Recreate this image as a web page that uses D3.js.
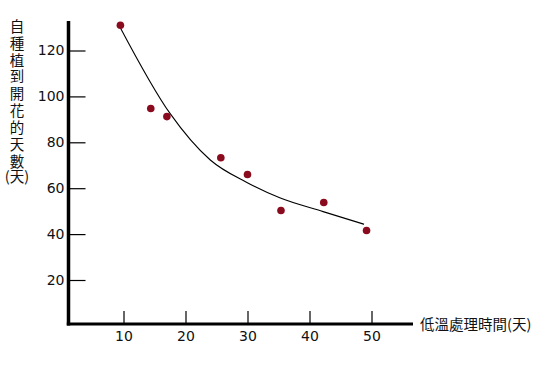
<!DOCTYPE html>
<html>
<head>
<meta charset="utf-8">
<script src="https://d3js.org/d3.v7.min.js"></script>
<style>
body{margin:0;background:#fff;}
svg{display:block;}
</style>
</head>
<body>
<div id="chart"></div>
<script>
// 低溫處理時間 vs 自種植到開花的天數
var xTicks = [10, 20, 30, 40, 50];
var yTicks = [20, 40, 60, 80, 100, 120];

// 觀測點
var coldDays   = [9.5, 14.4, 17.0, 25.7, 30.0, 35.4, 42.3, 49.2];
var flowerDays = [131, 94.7, 91.2, 73.3, 66.0, 50.3, 53.8, 41.6];

// 趨勢曲線
var curveX = [9.4, 17.5, 24.0, 29.9, 35.2, 42.2, 48.8];
var curveY = [130.4, 92.6, 72.3, 62.5, 55.8, 49.8, 44.3];

var yTitle = "自種植到開花的天數";
var yTitleUnit = "(天)";
var xTitle = "低溫處理時間(天)";

var W = 553, H = 372;
var axisX = 68.5, axisY = 324;

var x = d3.scaleLinear().domain([10, 50]).range([123.5, 371.5]);
var y = d3.scaleLinear().domain([20, 120]).range([280, 50.5]);

var svg = d3.select("#chart").append("svg")
    .attr("width", W)
    .attr("height", H);

var font = "'DejaVu Sans', Verdana, sans-serif";
var cjk = "'Noto Sans CJK TC', sans-serif";

// x 軸刻度
var gx = svg.append("g")
    .attr("transform", "translate(0," + axisY + ")")
    .call(d3.axisBottom(x).tickValues(xTicks).tickSize(-13).tickPadding(7));
gx.select(".domain").remove();
gx.selectAll("line").attr("stroke", "#000").attr("stroke-width", 1.2);
gx.selectAll("text").style("font-family", font).style("font-size", "14px").attr("fill", "#111");

// y 軸刻度
var gy = svg.append("g")
    .attr("transform", "translate(" + axisX + ",0)")
    .call(d3.axisLeft(y).tickValues(yTicks).tickSize(-17).tickPadding(4));
gy.select(".domain").remove();
gy.selectAll("line").attr("stroke", "#000").attr("stroke-width", 1.2);
gy.selectAll("text").style("font-family", font).style("font-size", "14px").attr("fill", "#111");

// 軸線
svg.append("line")
    .attr("x1", axisX).attr("x2", axisX)
    .attr("y1", 21).attr("y2", axisY + 1.5)
    .attr("stroke", "#000").attr("stroke-width", 3.5);
svg.append("line")
    .attr("x1", axisX - 1.7).attr("x2", 413)
    .attr("y1", axisY).attr("y2", axisY)
    .attr("stroke", "#000").attr("stroke-width", 3);

// 曲線
var curveData = curveX.map(function(d, i){ return [d, curveY[i]]; });
var line = d3.line()
    .x(function(d){ return x(d[0]); })
    .y(function(d){ return y(d[1]); })
    .curve(d3.curveMonotoneX);
svg.append("path")
    .datum(curveData)
    .attr("d", line)
    .attr("fill", "none")
    .attr("stroke", "#000")
    .attr("stroke-width", 1.1);

// 點
svg.selectAll(".dot")
    .data(coldDays)
    .enter().append("circle")
    .attr("class", "dot")
    .attr("cx", function(d){ return x(d); })
    .attr("cy", function(d, i){ return y(flowerDays[i]); })
    .attr("r", 3.8)
    .attr("fill", "#8a0a1e");

// 標題
svg.append("text")
    .attr("x", 420)
    .attr("y", 330)
    .style("font-family", cjk)
    .style("font-size", "14.5px")
    .attr("fill", "#111")
    .text(xTitle);

svg.append("text")
    .attr("x", 17)
    .attr("y", 19)
    .style("writing-mode", "vertical-rl")
    .style("font-family", cjk)
    .style("font-size", "14.5px")
    .style("letter-spacing", "2.4px")
    .attr("fill", "#111")
    .text(yTitle);

svg.append("text")
    .attr("x", 17)
    .attr("y", 182)
    .attr("text-anchor", "middle")
    .style("font-family", cjk)
    .style("font-size", "14.5px")
    .attr("fill", "#111")
    .text(yTitleUnit);
</script>
</body>
</html>
